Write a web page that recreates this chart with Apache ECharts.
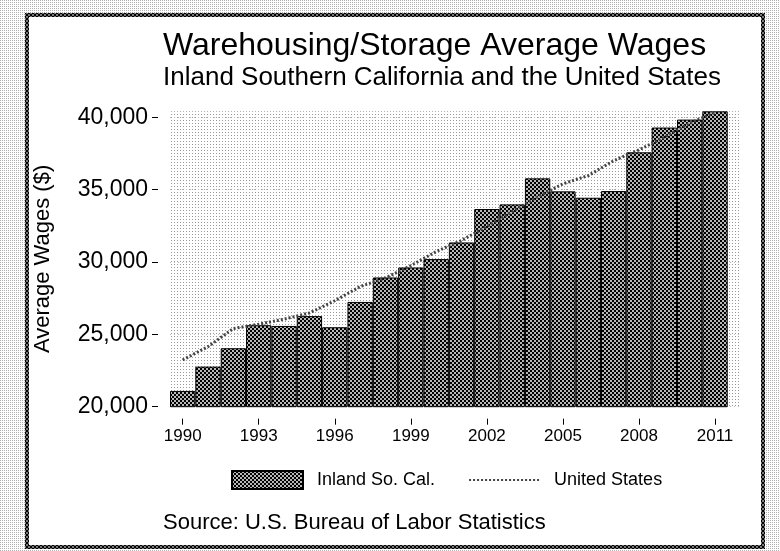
<!DOCTYPE html>
<html>
<head>
<meta charset="utf-8">
<script src="https://cdn.jsdelivr.net/npm/echarts@6/dist/echarts.min.js"></script>
<style>
  html, body { margin: 0; padding: 0; background: #fff; }
  #chart { width: 780px; height: 551px; }
</style>
</head>
<body>
<div id="chart"></div>
<script>
// Data
const years = [1990, 1991, 1992, 1993, 1994, 1995, 1996, 1997, 1998, 1999, 2000,
  2001, 2002, 2003, 2004, 2005, 2006, 2007, 2008, 2009, 2010, 2011];
const inlandWages = [21090, 22770, 24040, 25630, 25580, 26260, 25490, 27240, 28930, 29620, 30200,
  31350, 33660, 33980, 35780, 34880, 34440, 34900, 37580, 39290, 39840, 40410];
const usWages = [23230, 24150, 25400, 25700, 26050, 26480, 27320, 28300, 28900, 29750, 30720,
  31490, 32460, 33490, 34500, 35400, 35970, 37000, 37750, 38620, 39600, 40330];
const yearTicks = [1990, 1993, 1996, 1999, 2002, 2005, 2008, 2011];
const wageTicks = [20000, 25000, 30000, 35000, 40000];

const FONT = "Liberation Sans";

// small canvas patterns (checker for bars/frame, dots for backgrounds)
function checker(cell, dark, light) {
  const c = document.createElement("canvas");
  c.width = c.height = cell * 2;
  const ctx = c.getContext("2d");
  ctx.fillStyle = light;
  ctx.fillRect(0, 0, cell * 2, cell * 2);
  ctx.fillStyle = dark;
  ctx.fillRect(0, 0, cell, cell);
  ctx.fillRect(cell, cell, cell, cell);
  return { image: c, repeat: "repeat" };
}

function dots(step, color) {
  const c = document.createElement("canvas");
  c.width = c.height = step;
  const ctx = c.getContext("2d");
  ctx.fillStyle = "#fff";
  ctx.fillRect(0, 0, step, step);
  ctx.fillStyle = color;
  ctx.fillRect(0, 0, 1, 1);
  return { image: c, repeat: "repeat" };
}

const barFill = checker(2, "#000", "#b8b8b8");

const chart = echarts.init(document.getElementById("chart"));

const option = {
  animation: false,
  textStyle: { fontFamily: FONT, color: "#000" },
  graphic: [
    { type: "rect", z: -30, shape: { x: 0, y: 0, width: 780, height: 551 }, style: { fill: dots(2, "#b0b0b0") } },
    { type: "rect", z: -29, shape: { x: 25, y: 13, width: 740, height: 536 }, style: { fill: checker(2, "#000", "#777") } },
    { type: "rect", z: -28, shape: { x: 29, y: 17, width: 732, height: 528 }, style: { fill: "#fff" } },
  ],
  title: [
    {
      text: "Warehousing/Storage Average Wages",
      left: 163,
      top: 30,
      padding: 0,
      textStyle: { fontFamily: FONT, fontSize: 32, fontWeight: "normal", color: "#000" },
    },
    {
      text: "Inland Southern California and the United States",
      left: 163,
      top: 65,
      padding: 0,
      textStyle: { fontFamily: FONT, fontSize: 26, fontWeight: "normal", color: "#000" },
    },
    {
      text: "Source: U.S. Bureau of Labor Statistics",
      left: 163,
      top: 512,
      padding: 0,
      textStyle: { fontFamily: FONT, fontSize: 22, fontWeight: "normal", color: "#000" },
    },
  ],
  legend: {
    data: [
      { name: "Inland So. Cal.", icon: "rect" },
      { name: "United States", itemStyle: { opacity: 0 } },
    ],
    left: 231,
    top: 470,
    padding: 0,
    itemWidth: 71,
    itemHeight: 18,
    itemGap: 33,
    textStyle: { fontFamily: FONT, fontSize: 18, color: "#000", padding: [0, 0, 0, 9] },
  },
  grid: {
    left: 170,
    right: 39.6,
    top: 111.2,
    bottom: 144.3,
    show: true,
    borderWidth: 0,
    backgroundColor: dots(3, "#999"),
  },
  xAxis: {
    type: "value",
    min: 1989.5,
    max: 2012,
    offset: 12,
    axisLine: { show: false },
    axisTick: { show: true, length: 6, lineStyle: { color: "#000" }, customValues: yearTicks },
    axisLabel: {
      fontFamily: FONT,
      fontSize: 17,
      color: "#000",
      margin: 9,
      customValues: yearTicks,
      formatter: (v) => String(v),
    },
    splitLine: { show: false },
  },
  yAxis: {
    type: "value",
    min: 20000,
    max: 40420,
    interval: 5000,
    offset: 12,
    name: "Average Wages ($)",
    nameLocation: "middle",
    nameGap: 104,
    nameTextStyle: { fontFamily: FONT, fontSize: 22, color: "#000" },
    axisLine: { show: false },
    axisTick: { show: true, length: 6, lineStyle: { color: "#000" }, customValues: wageTicks },
    axisLabel: { fontFamily: FONT, fontSize: 23, color: "#000", margin: 10, customValues: wageTicks },
    splitLine: { show: true, lineStyle: { color: "#bbb", type: [1, 3], width: 1 } },
  },
  series: [
    {
      name: "Inland So. Cal.",
      type: "bar",
      barWidth: 25.35,
      data: years.map((y, i) => [y, inlandWages[i]]),
      itemStyle: { color: barFill, borderColor: "#000", borderWidth: 1 },
    },
    {
      name: "United States",
      type: "line",
      symbol: "none",
      clip: false,
      data: years.map((y, i) => [y, usWages[i]]),
      lineStyle: { color: "#444", width: 3, type: [2, 2] },
      itemStyle: { color: "#444" },
    },
  ],
};

chart.setOption(option);
</script>
</body>
</html>
